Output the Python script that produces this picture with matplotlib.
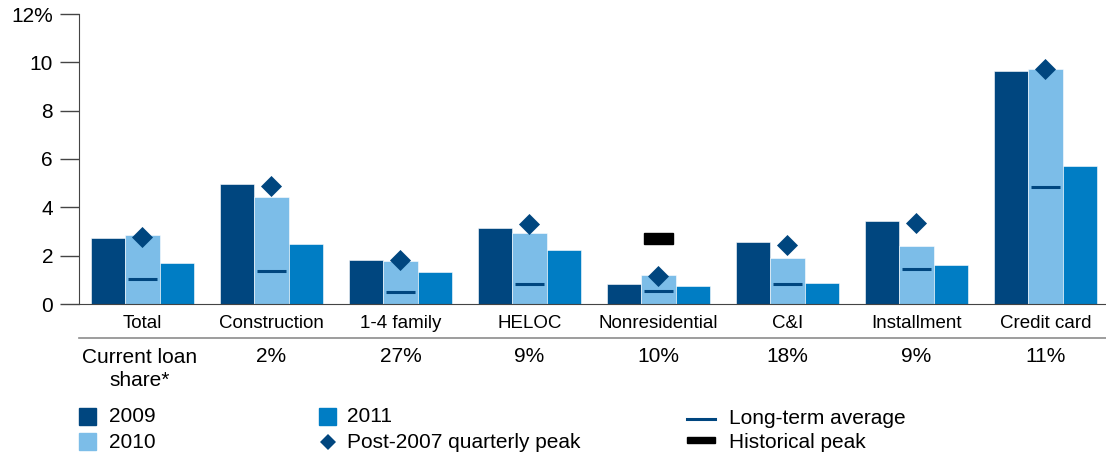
import matplotlib.pyplot as plt
import matplotlib.transforms as mtransforms
from matplotlib.patches import Rectangle
from matplotlib.lines import Line2D
import numpy as np

plt.rcParams['font.family'] = ['Liberation Sans', 'DejaVu Sans']

# data
categories = ['Total', 'Construction', '1-4 family', 'HELOC', 'Nonresidential',
              'C&I', 'Installment', 'Credit card']
v2009 = [2.72, 4.98, 1.82, 3.16, 0.81, 2.55, 3.45, 9.64]
v2010 = [2.84, 4.44, 1.77, 2.92, 1.20, 1.89, 2.40, 9.71]
v2011 = [1.71, 2.47, 1.32, 2.23, 0.76, 0.86, 1.63, 5.70]
post2007_peak = [2.79, 4.88, 1.82, 3.30, 1.17, 2.45, 3.34, 9.72]
long_term_avg = [1.02, 1.38, 0.48, 0.81, 0.55, 0.81, 1.44, 4.85]
historical_peak = {'Nonresidential': 2.70}
loan_share = ['', '2%', '27%', '9%', '10%', '18%', '9%', '11%']

c2009 = '#00467f'
c2010 = '#7cbde8'
c2011 = '#007dc4'
cmark = '#00467f'
cax = '#444444'

W, H = 1106, 455
fig = plt.figure(figsize=(W / 100, H / 100), dpi=100)
ax = fig.add_axes([79 / W, 1 - 304 / H, 1 - 79 / W, 290 / H])
# pixel coords from top-left of the figure, for the text row and legend
px = mtransforms.Affine2D().scale(1 / W, -1 / H).translate(0, 1) + fig.transFigure

x = np.arange(len(categories))
w = 0.266
ax.bar(x - w, v2009, w, color=c2009, edgecolor='white', linewidth=0.4)
ax.bar(x, v2010, w, color=c2010, edgecolor='white', linewidth=0.4)
ax.bar(x + w, v2011, w, color=c2011, edgecolor='white', linewidth=0.4)

# long-term average dashes on 2010 bars
ax.hlines(long_term_avg, x - 0.116, x + 0.116, color=cmark, linewidth=2.2, zorder=3)
# post-2007 quarterly peak diamonds
ax.scatter(x, post2007_peak, marker='D', s=115, color=cmark, zorder=4, linewidths=0)
# historical peak
for cat, val in historical_peak.items():
    i = categories.index(cat)
    ax.add_patch(Rectangle((i - 0.116, val - 0.225), 0.232, 0.45,
                           color='black', zorder=4))

ax.set_xlim(-0.492, 7.469)
ax.set_ylim(0, 12)
ax.set_yticks(range(0, 13, 2))
ax.set_yticklabels(['0', '2', '4', '6', '8', '10', '12%'])
ax.set_xticks(x)
ax.set_xticklabels(categories)
ax.tick_params(axis='x', length=0, pad=8, labelsize=13.5)
ax.tick_params(axis='y', length=13.7, width=1, pad=5, labelsize=15, color=cax)
for s in ['top', 'right']:
    ax.spines[s].set_visible(False)
ax.spines['left'].set_color(cax)
ax.spines['bottom'].set_color(cax)

# separator under the category labels
fig.add_artist(Line2D([79, W], [338, 338], color='#8c8c8c', linewidth=1.2, transform=px))

# current loan share row
fig.text(140, 369, 'Current loan\nshare*', fontsize=15, ha='center', va='center',
         linespacing=1.3, transform=px)
trans = mtransforms.blended_transform_factory(ax.transData, px)
for xi, s in zip(x, loan_share):
    if s:
        ax.text(xi, 357, s, fontsize=15, ha='center', va='center', transform=trans)

# legend, drawn by hand in three columns
def box(x0, y0, color):
    fig.add_artist(Rectangle((x0, y0 + 17), 17, -17, color=color, transform=px))

def label(x0, y0, s):
    fig.text(x0, y0, s, fontsize=15, ha='left', va='center', transform=px)

box(79, 408, c2009)
label(109, 417, '2009')
box(79, 433, c2010)
label(109, 442, '2010')
box(319, 408, c2011)
label(347, 417, '2011')
fig.add_artist(Line2D([327.5], [442], marker='D', markersize=8.5, color=cmark,
                      markeredgewidth=0, linestyle='none', transform=px))
label(347, 442, 'Post-2007 quarterly peak')
fig.add_artist(Line2D([687, 715], [419, 419], color=cmark, linewidth=2.2, transform=px))
label(729, 418, 'Long-term average')
fig.add_artist(Rectangle((687, 443), 28, -6.5, color='black', transform=px))
label(729, 442, 'Historical peak')

fig.savefig('out.png', dpi=100)
